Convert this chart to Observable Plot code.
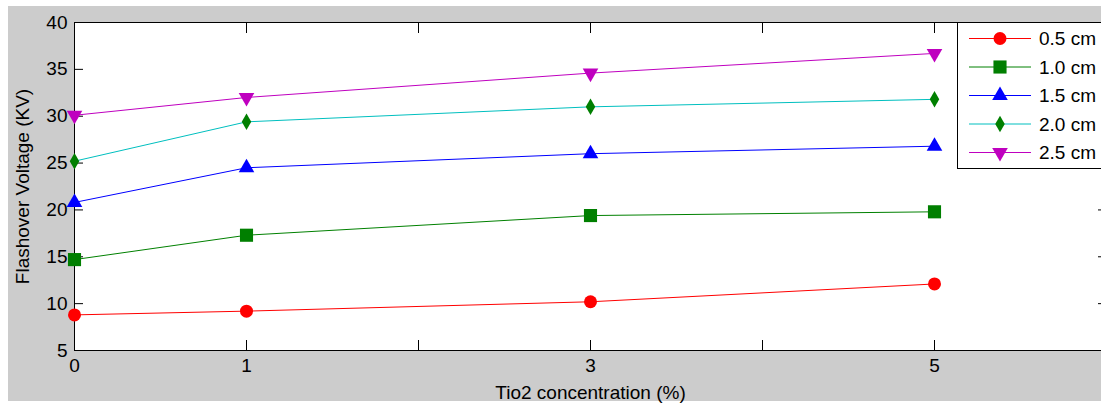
<!DOCTYPE html>
<html><head><meta charset="utf-8">
<script src="https://cdn.jsdelivr.net/npm/d3@7"></script>
<script src="https://cdn.jsdelivr.net/npm/@observablehq/plot@0.6"></script>
<style>
html,body{margin:0;padding:0;background:#fff;}
#wrap{position:relative;width:1101px;height:403px;overflow:hidden;}
#bg{position:absolute;left:8px;top:6px;width:1093px;height:395px;background:#cccccc;}
#chart{position:absolute;left:0;top:0;}
#legend{position:absolute;left:0;top:0;}
</style></head><body>
<div id="wrap"><div id="bg"></div><div id="chart"></div><svg id="legend" width="1101" height="403"></svg></div>
<script>
// ---- data ----
const concentration = [0, 1, 3, 5];
const gapLabels = ["0.5 cm", "1.0 cm", "1.5 cm", "2.0 cm", "2.5 cm"];
const v05 = [8.8, 9.2, 10.2, 12.1];
const v10 = [14.7, 17.3, 19.4, 19.8];
const v15 = [20.8, 24.5, 26.0, 26.8];
const v20 = [25.2, 29.4, 31.0, 31.8];
const v25 = [30.1, 32.0, 34.6, 36.7];
const xTicks = [0, 1, 2, 3, 4, 5, 6];
const xTickLabels = [0, 1, 3, 5];
const yTicks = [5, 10, 15, 20, 25, 30, 35, 40];
const xTitle = "Tio2 concentration (%)";
const yTitle = "Flashover Voltage (KV)";

// ---- styles ----
const lineColors = ["#ff0000", "#008000", "#0000ff", "#00bfbf", "#bf00bf"];
const markerFill = ["#ff0000", "#007f00", "#0000ff", "#007f00", "#bf00bf"];
const triangleDown = {
  draw(ctx, size) {
    const s = Math.sqrt(size * 4 / Math.sqrt(3)), h = s * Math.sqrt(3) / 2;
    ctx.moveTo(0, 2 * h / 3); ctx.lineTo(s / 2, -h / 3); ctx.lineTo(-s / 2, -h / 3); ctx.closePath();
  }
};
const markerSymbol = [d3.symbolCircle, d3.symbolSquare, d3.symbolTriangle, d3.symbolDiamond, triangleDown];
const markerR = [6.5, 7.4, 5.8, 5.0, 5.8];
const font = "'Liberation Sans', Arial, sans-serif";
const fs = 19;

const seriesValues = [v05, v10, v15, v20, v25];
const rows = seriesValues.flatMap((vals, s) => concentration.map((c, i) => ({c, v: vals[i], s: gapLabels[s], k: s})));

const marks = [
  Plot.frame({fill: "white", stroke: "#000"}),
  Plot.axisX(xTicks, {anchor: "bottom", tickSize: -10, tickFormat: () => "", label: null}),
  Plot.axisX(xTicks, {anchor: "top", tickSize: -10, tickFormat: () => "", label: null}),
  Plot.axisY(yTicks, {anchor: "left", tickSize: -9, tickFormat: () => "", label: null}),
  Plot.axisY(yTicks, {anchor: "right", tickSize: -9, tickFormat: () => "", label: null}),
  Plot.axisX(xTickLabels, {anchor: "bottom", tickSize: 0, tickPadding: 8, label: null, fontSize: fs, tickFormat: d => String(d)}),
  Plot.axisY(yTicks, {anchor: "left", tickSize: 0, tickPadding: 7, label: null, fontSize: fs, tickFormat: d => String(d)}),
  Plot.line(rows, {x: "c", y: "v", z: "s", stroke: "s", strokeWidth: 1}),
  ...gapLabels.map((g, k) => Plot.dot(rows.filter(d => d.k === k), {
    x: "c", y: "v", symbol: markerSymbol[k], r: markerR[k], fill: markerFill[k], stroke: "none"
  })),
  Plot.text([xTitle], {text: d => d, frameAnchor: "bottom", dy: 48, lineAnchor: "bottom", textAnchor: "middle", fontSize: fs, fill: "#000"}),
  Plot.text([yTitle], {text: d => d, frameAnchor: "left", dx: -46, rotate: -90, lineAnchor: "bottom", textAnchor: "middle", fontSize: fs, fill: "#000"})
];

const chart = Plot.plot({
  width: 1101, height: 403,
  marginLeft: 74, marginTop: 22, marginBottom: 53, marginRight: -5,
  style: {background: "transparent", fontFamily: font, fontSize: fs + "px", color: "#000", overflow: "hidden"},
  x: {domain: [0, 6], label: null},
  y: {domain: [5, 40], label: null},
  color: {domain: gapLabels, range: lineColors},
  marks
});
document.getElementById("chart").appendChild(chart);

// ---- legend ----
const lg = d3.select("#legend");
lg.append("rect").attr("x", 957.5).attr("y", 22.5).attr("width", 200).attr("height", 146)
  .attr("fill", "white").attr("stroke", "#000");
gapLabels.forEach((g, k) => {
  const y = 38.5 + k * 28.5;
  lg.append("line").attr("x1", 969).attr("x2", 1031).attr("y1", y).attr("y2", y)
    .attr("stroke", lineColors[k]).attr("stroke-width", 1);
  lg.append("path").attr("transform", `translate(1000,${y})`)
    .attr("d", d3.symbol().type(markerSymbol[k]).size(Math.PI * markerR[k] * markerR[k])())
    .attr("fill", markerFill[k]);
  lg.append("text").attr("x", 1039).attr("y", y).attr("dy", "0.35em")
    .attr("font-family", font).attr("font-size", fs).attr("fill", "#000").text(g);
});
</script>
</body></html>
